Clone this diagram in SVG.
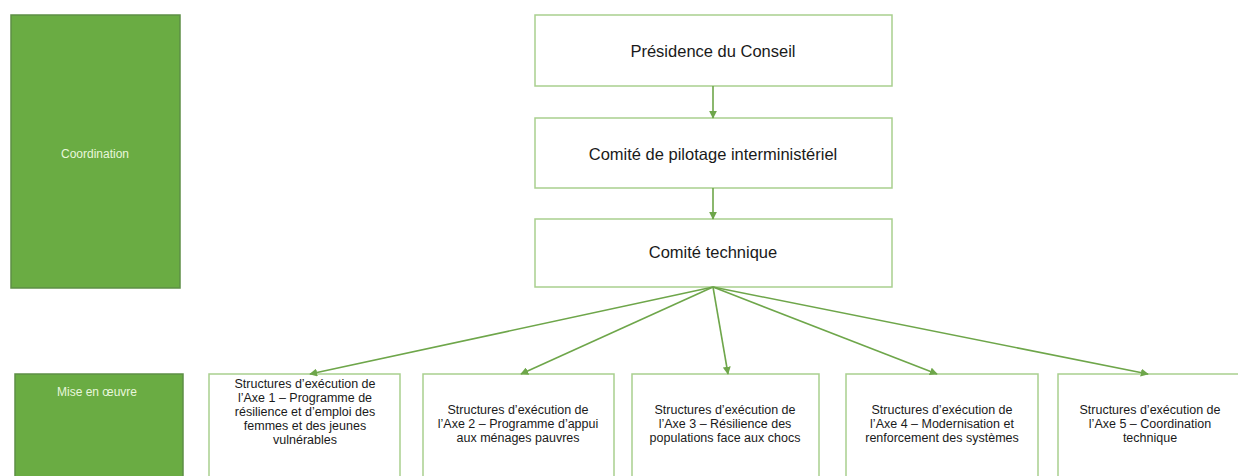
<svg xmlns="http://www.w3.org/2000/svg" width="1238" height="476" viewBox="0 0 1238 476">
<style>
.side{fill:#6aac43;stroke:#5d8f45;stroke-width:1.5}
.box{fill:#ffffff;stroke:#a9cf8e;stroke-width:1.5}
.sidetxt{font-family:"Liberation Sans",Arial,sans-serif;font-size:12px;fill:#e8f7dc;text-anchor:middle}
.top{font-family:"Liberation Sans",Arial,sans-serif;font-size:16.5px;fill:#1a1a1a;text-anchor:middle}
.bt{font-family:"Liberation Sans",Arial,sans-serif;font-size:12.5px;fill:#1a1a1a;text-anchor:middle}
.con{stroke:#6ea64a;stroke-width:1.6;fill:none;marker-end:url(#ah)}
</style>
<defs>
<marker id="ah" viewBox="0 0 10 10" refX="9" refY="5" markerWidth="5" markerHeight="5" orient="auto" markerUnits="strokeWidth">
<path d="M0,0 L10,5 L0,10 z" fill="#6ea64a"/>
</marker>
</defs>
<rect width="1238" height="476" fill="#ffffff"/>
<g id="coordination">
<rect class="side" x="11" y="15" width="169" height="273"/>
<text class="sidetxt" x="95" y="158">Coordination</text>
</g>
<g id="mise-en-oeuvre">
<rect class="side" x="15" y="374" width="168" height="110"/>
<text class="sidetxt" x="97" y="396">Mise en œuvre</text>
</g>
<g id="presidence">
<rect class="box" x="535" y="15" width="357" height="71"/>
<text class="top" x="713" y="57">Présidence du Conseil</text>
</g>
<g id="comite-pilotage">
<rect class="box" x="535" y="118" width="357" height="70"/>
<text class="top" x="713" y="160">Comité de pilotage interministériel</text>
</g>
<g id="comite-technique">
<rect class="box" x="535" y="219" width="357" height="68"/>
<text class="top" x="713" y="258">Comité technique</text>
</g>
<g id="axe1">
<rect class="box" x="209" y="374" width="191" height="110"/>
<text class="bt" x="305" y="388">Structures d’exécution de</text>
<text class="bt" x="305" y="402">l’Axe 1 – Programme de</text>
<text class="bt" x="305" y="416">résilience et d’emploi des</text>
<text class="bt" x="305" y="430">femmes et des jeunes</text>
<text class="bt" x="305" y="444">vulnérables</text>
</g>
<g id="axe2">
<rect class="box" x="423" y="374" width="191" height="110"/>
<text class="bt" x="518" y="414">Structures d’exécution de</text>
<text class="bt" x="518" y="428">l’Axe 2 – Programme d’appui</text>
<text class="bt" x="518" y="442">aux ménages pauvres</text>
</g>
<g id="axe3">
<rect class="box" x="632" y="374" width="187" height="110"/>
<text class="bt" x="725" y="414">Structures d’exécution de</text>
<text class="bt" x="725" y="428">l’Axe 3 – Résilience des</text>
<text class="bt" x="725" y="442">populations  face aux chocs</text>
</g>
<g id="axe4">
<rect class="box" x="846" y="374" width="192" height="110"/>
<text class="bt" x="942" y="414">Structures d’exécution de</text>
<text class="bt" x="942" y="428">l’Axe 4 – Modernisation et</text>
<text class="bt" x="942" y="442">renforcement des systèmes</text>
</g>
<g id="axe5">
<rect class="box" x="1058" y="374" width="186" height="110"/>
<text class="bt" x="1150" y="414">Structures d’exécution de</text>
<text class="bt" x="1150" y="428">l’Axe 5 – Coordination</text>
<text class="bt" x="1150" y="442">technique</text>
</g>
<g id="connectors">
<line class="con" x1="713" y1="86" x2="713" y2="118"/>
<line class="con" x1="713" y1="188" x2="713" y2="219"/>
<line class="con" x1="713" y1="287" x2="310" y2="374"/>
<line class="con" x1="713" y1="287" x2="521" y2="374"/>
<line class="con" x1="713" y1="287" x2="728" y2="374"/>
<line class="con" x1="713" y1="287" x2="937" y2="374"/>
<line class="con" x1="713" y1="287" x2="1148" y2="374"/>
</g>
</svg>
